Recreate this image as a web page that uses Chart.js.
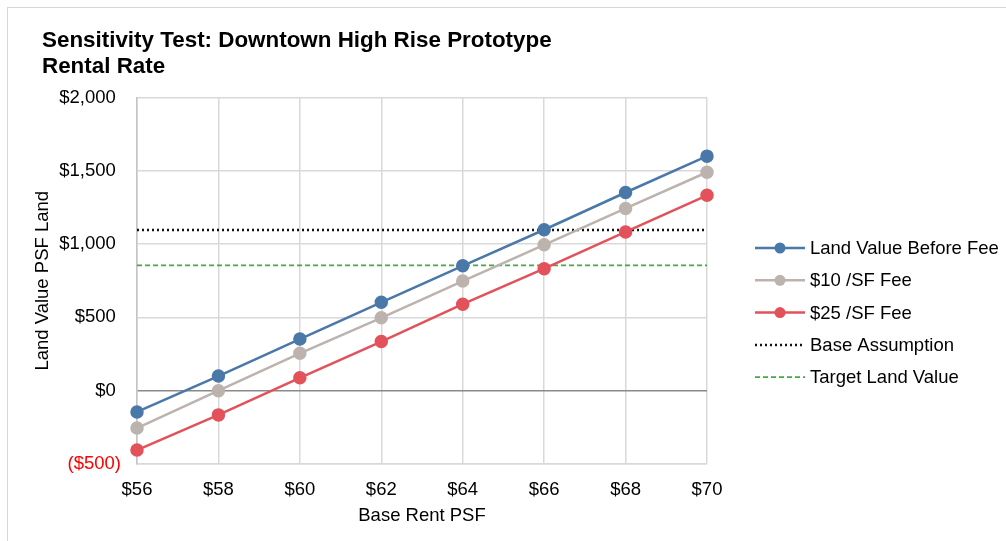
<!DOCTYPE html>
<html>
<head>
<meta charset="utf-8">
<script src="https://cdn.jsdelivr.net/npm/chart.js@4/dist/chart.umd.min.js"></script>
<style>
  html, body { margin: 0; padding: 0; background: #ffffff; }
  #wrap { position: relative; width: 1006px; height: 541px; }
  #frame { position: absolute; left: 7px; top: 7px; right: 0; bottom: 0;
           border-top: 1.5px solid #d6d6d6; border-left: 1.5px solid #d6d6d6; pointer-events: none; }
  canvas { position: absolute; left: 0; top: 0; }
</style>
</head>
<body>
<div id="wrap">
  <canvas id="chart" width="1006" height="541"></canvas>
  <div id="frame"></div>
</div>
<script>
// Base rent levels ($ per SF) tested
const rentLabels = ['$56', '$58', '$60', '$62', '$64', '$66', '$68', '$70'];

// Residual land value per SF of land under each fee scenario
const landValueBeforeFee = [-145, 100, 352, 603, 852, 1098, 1352, 1600];
const fee10PerSF        = [-255, 0, 255, 497, 748, 995, 1243, 1490];
const fee25PerSF        = [-405, -165, 88, 335, 590, 832, 1083, 1333];

// Reference levels
const baseAssumption  = 1097;
const targetLandValue = 855;

// Value axis ticks
const yMin = -500;
const yMax = 2000;
const yStep = 500;

const seriesNames = ['Land Value Before Fee', '$10 /SF Fee', '$25 /SF Fee', 'Base Assumption', 'Target Land Value'];
const titleLines = ['Sensitivity Test: Downtown High Rise Prototype', 'Rental Rate'];

const FONT = '"Liberation Sans", Arial, sans-serif';
const TXT = 18.5;

function money(v) {
  const s = '$' + Math.abs(v).toLocaleString('en-US');
  return v < 0 ? '(' + s + ')' : s + ' ';
}

const flat = v => rentLabels.map(() => v);

const titlePlugin = {
  id: 'chartHeading',
  afterDraw(chart) {
    const ctx = chart.ctx;
    ctx.save();
    ctx.fillStyle = '#000000';
    ctx.font = 'bold 22.4px ' + FONT;
    ctx.textAlign = 'left';
    ctx.textBaseline = 'middle';
    ctx.fillText(titleLines[0], 42, 41);
    ctx.fillText(titleLines[1], 42, 67);
    ctx.restore();
  }
};

const sideLegend = {
  id: 'sideLegend',
  afterDraw(chart) {
    const ctx = chart.ctx;
    const x0 = 755, x1 = 805, tx = 810, y0 = 248, gap = 32.3;
    ctx.save();
    chart.data.datasets.forEach((ds, i) => {
      const y = y0 + i * gap;
      ctx.beginPath();
      ctx.setLineDash(ds.borderDash || []);
      ctx.lineWidth = ds.borderWidth;
      ctx.strokeStyle = ds.borderColor;
      ctx.moveTo(x0, y);
      ctx.lineTo(x1, y);
      ctx.stroke();
      ctx.setLineDash([]);
      if (ds.pointRadius > 0) {
        ctx.beginPath();
        ctx.fillStyle = ds.pointBackgroundColor;
        ctx.arc((x0 + x1) / 2, y, ds.pointRadius, 0, Math.PI * 2);
        ctx.fill();
      }
      ctx.fillStyle = '#000000';
      ctx.font = TXT + 'px ' + FONT;
      ctx.textAlign = 'left';
      ctx.textBaseline = 'middle';
      ctx.fillText(ds.label, tx, y + 1);
    });
    ctx.restore();
  }
};

function lineSeries(label, data, color) {
  return {
    label, data,
    borderColor: color,
    backgroundColor: color,
    pointBackgroundColor: color,
    pointBorderColor: color,
    borderWidth: 2.5,
    pointRadius: 5.5,
    pointHoverRadius: 5.5,
    tension: 0,
    order: 0
  };
}

new Chart(document.getElementById('chart'), {
  type: 'line',
  data: {
    labels: rentLabels,
    datasets: [
      lineSeries(seriesNames[0], landValueBeforeFee, '#4a78a8'),
      lineSeries(seriesNames[1], fee10PerSF, '#bdb3ae'),
      lineSeries(seriesNames[2], fee25PerSF, '#e3525a'),
      {
        label: seriesNames[3], data: flat(baseAssumption),
        borderColor: '#111111', borderWidth: 2.5, borderDash: [2, 3],
        pointRadius: 0, order: 1
      },
      {
        label: seriesNames[4], data: flat(targetLandValue),
        borderColor: '#45a845', borderWidth: 1.8, borderDash: [5, 3],
        pointRadius: 0, order: 1
      }
    ]
  },
  options: {
    responsive: false,
    animation: false,
    devicePixelRatio: 1,
    layout: { padding: { left: 28, right: 299, top: 97.5, bottom: 0 } },
    plugins: {
      legend: { display: false },
      tooltip: { enabled: false },
      title: { display: false }
    },
    scales: {
      x: {
        type: 'category',
        offset: false,
        afterFit: s => { s.height = 77; },
        grid: { color: '#d9d9d9', lineWidth: 1.5, drawTicks: false },
        border: { color: '#d9d9d9', width: 1.5 },
        ticks: {
          color: '#000000', padding: 15, maxRotation: 0, autoSkip: false,
          font: { family: FONT, size: TXT }
        },
        title: {
          display: true, text: 'Base Rent PSF', color: '#000000',
          font: { family: FONT, size: TXT }, padding: { top: 0, bottom: 14 }
        }
      },
      y: {
        min: yMin, max: yMax,
        afterFit: s => { s.width = 109; },
        grid: {
          color: c => (c.tick && c.tick.value === 0 ? '#8a8a8a' : '#d9d9d9'),
          lineWidth: 1.5, drawTicks: false
        },
        border: { color: '#c4c4c4', width: 1.5 },
        ticks: {
          stepSize: yStep, padding: 16,
          color: c => (c.tick.value < 0 ? '#ff0000' : '#000000'),
          font: { family: FONT, size: TXT },
          callback: v => money(v)
        },
        title: {
          display: true, text: 'Land Value PSF Land', color: '#000000',
          font: { family: FONT, size: TXT }, padding: { top: 4, bottom: 0 }
        }
      }
    }
  },
  plugins: [titlePlugin, sideLegend]
});
</script>
</body>
</html>
